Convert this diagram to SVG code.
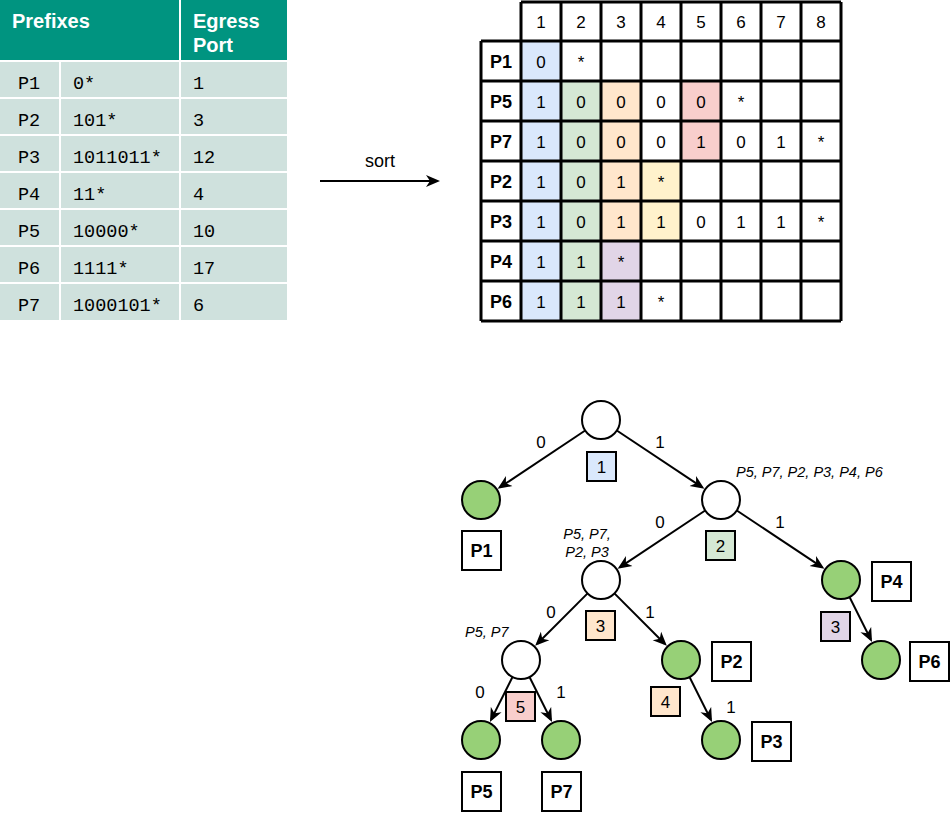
<svg xmlns="http://www.w3.org/2000/svg" width="952" height="813" viewBox="0 0 952 813">
<style>
.hd{font-family:"Liberation Sans",Arial,sans-serif;font-weight:bold;font-size:20px;fill:#fff}
.mono{font-family:"Liberation Mono","DejaVu Sans Mono",monospace;font-size:18.5px;fill:#000}
.row{fill:#cfe1dd}
.m{font-family:"Liberation Sans",Arial,sans-serif;font-size:17px;fill:#000;text-anchor:middle}
.mb{font-family:"Liberation Sans",Arial,sans-serif;font-size:18px;font-weight:bold;fill:#000;text-anchor:middle}
.grid{stroke:#000;stroke-width:3;fill:none}
.node{fill:#fff;stroke:#000;stroke-width:2}
.leaf{fill:#97d077;stroke:#000;stroke-width:2}
.pbox{fill:#fff;stroke:#000;stroke-width:2}
.nbox{stroke:#000;stroke-width:2}
.el{font-family:"Liberation Sans",Arial,sans-serif;font-size:17px;fill:#000;text-anchor:middle}
.it{font-family:"Liberation Sans",Arial,sans-serif;font-size:14.5px;font-style:italic;fill:#000}
.edge{stroke:#000;stroke-width:2;fill:none;marker-end:url(#arr)}
.blue{fill:#dae8fc}.green{fill:#d5e8d4}.orange{fill:#ffe6cc}.purple{fill:#e1d5e7}.yellow{fill:#fff2cc}.red{fill:#f8cecc}
</style>
<defs>
<marker id="arr" markerUnits="userSpaceOnUse" markerWidth="15" markerHeight="13" viewBox="0 0 15 13" refX="11" refY="6.5" orient="auto">
<path d="M0,0.5 L14,6.5 L0,12.5 L4,6.5 z" fill="#000"/>
</marker>
</defs>
<rect width="952" height="813" fill="#fff"/>

<g id="prefix-table">
<rect x="0" y="0" width="179" height="60" fill="#009480"/>
<rect x="181" y="0" width="106" height="60" fill="#009480"/>
<text class="hd" x="12" y="28">Prefixes</text>
<text class="hd" x="193" y="28">Egress</text>
<text class="hd" x="193" y="52">Port</text>
<g>
<rect class="row" x="0" y="62" width="59" height="35"/><rect class="row" x="61" y="62" width="118" height="35"/><rect class="row" x="181" y="62" width="106" height="35"/>
<rect class="row" x="0" y="99" width="59" height="35"/><rect class="row" x="61" y="99" width="118" height="35"/><rect class="row" x="181" y="99" width="106" height="35"/>
<rect class="row" x="0" y="136" width="59" height="35"/><rect class="row" x="61" y="136" width="118" height="35"/><rect class="row" x="181" y="136" width="106" height="35"/>
<rect class="row" x="0" y="173" width="59" height="35"/><rect class="row" x="61" y="173" width="118" height="35"/><rect class="row" x="181" y="173" width="106" height="35"/>
<rect class="row" x="0" y="210" width="59" height="35"/><rect class="row" x="61" y="210" width="118" height="35"/><rect class="row" x="181" y="210" width="106" height="35"/>
<rect class="row" x="0" y="247" width="59" height="35"/><rect class="row" x="61" y="247" width="118" height="35"/><rect class="row" x="181" y="247" width="106" height="35"/>
<rect class="row" x="0" y="284" width="59" height="36"/><rect class="row" x="61" y="284" width="118" height="36"/><rect class="row" x="181" y="284" width="106" height="36"/>
</g>
<text class="mono" x="18" y="89">P1</text><text class="mono" x="73" y="89">0*</text><text class="mono" x="193" y="89">1</text>
<text class="mono" x="18" y="126">P2</text><text class="mono" x="73" y="126">101*</text><text class="mono" x="193" y="126">3</text>
<text class="mono" x="18" y="163">P3</text><text class="mono" x="73" y="163">1011011*</text><text class="mono" x="193" y="163">12</text>
<text class="mono" x="18" y="200">P4</text><text class="mono" x="73" y="200">11*</text><text class="mono" x="193" y="200">4</text>
<text class="mono" x="18" y="237">P5</text><text class="mono" x="73" y="237">10000*</text><text class="mono" x="193" y="237">10</text>
<text class="mono" x="18" y="274">P6</text><text class="mono" x="73" y="274">1111*</text><text class="mono" x="193" y="274">17</text>
<text class="mono" x="18" y="311">P7</text><text class="mono" x="73" y="311">1000101*</text><text class="mono" x="193" y="311">6</text>
</g>

<g id="sort-arrow">
<line class="edge" x1="320" y1="181" x2="437" y2="181"/>
<text x="380" y="167" font-family="Liberation Sans, Arial, sans-serif" font-size="18" text-anchor="middle">sort</text>
</g>

<g id="sorted-matrix">
<rect class="blue" x="521" y="41" width="40" height="280"/>
<rect class="green" x="561" y="81" width="40" height="240"/>
<rect class="orange" x="601" y="81" width="40" height="160"/>
<rect class="purple" x="601" y="241" width="40" height="80"/>
<rect class="yellow" x="641" y="161" width="40" height="80"/>
<rect class="red" x="681" y="81" width="40" height="80"/>
<path class="grid" d="M521,2H841M481,41H841M481,81H841M481,121H841M481,161H841M481,201H841M481,241H841M481,281H841M481,321H841M481,41V321M521,2V321M561,2V321M601,2V321M641,2V321M681,2V321M721,2V321M761,2V321M801,2V321M841,2V321"/>
<text class="m" x="541" y="28">1</text><text class="m" x="581" y="28">2</text><text class="m" x="621" y="28">3</text><text class="m" x="661" y="28">4</text><text class="m" x="701" y="28">5</text><text class="m" x="741" y="28">6</text><text class="m" x="781" y="28">7</text><text class="m" x="821" y="28">8</text>
<text class="mb" x="501" y="67.5">P1</text><text class="mb" x="501" y="107.5">P5</text><text class="mb" x="501" y="147.5">P7</text><text class="mb" x="501" y="187.5">P2</text><text class="mb" x="501" y="227.5">P3</text><text class="mb" x="501" y="267.5">P4</text><text class="mb" x="501" y="307.5">P6</text>
<text class="m" x="541" y="67.5">0</text><text class="m" x="581" y="67.5">*</text>
<text class="m" x="541" y="107.5">1</text><text class="m" x="581" y="107.5">0</text><text class="m" x="621" y="107.5">0</text><text class="m" x="661" y="107.5">0</text><text class="m" x="701" y="107.5">0</text><text class="m" x="741" y="107.5">*</text>
<text class="m" x="541" y="147.5">1</text><text class="m" x="581" y="147.5">0</text><text class="m" x="621" y="147.5">0</text><text class="m" x="661" y="147.5">0</text><text class="m" x="701" y="147.5">1</text><text class="m" x="741" y="147.5">0</text><text class="m" x="781" y="147.5">1</text><text class="m" x="821" y="147.5">*</text>
<text class="m" x="541" y="187.5">1</text><text class="m" x="581" y="187.5">0</text><text class="m" x="621" y="187.5">1</text><text class="m" x="661" y="187.5">*</text>
<text class="m" x="541" y="227.5">1</text><text class="m" x="581" y="227.5">0</text><text class="m" x="621" y="227.5">1</text><text class="m" x="661" y="227.5">1</text><text class="m" x="701" y="227.5">0</text><text class="m" x="741" y="227.5">1</text><text class="m" x="781" y="227.5">1</text><text class="m" x="821" y="227.5">*</text>
<text class="m" x="541" y="267.5">1</text><text class="m" x="581" y="267.5">1</text><text class="m" x="621" y="267.5">*</text>
<text class="m" x="541" y="307.5">1</text><text class="m" x="581" y="307.5">1</text><text class="m" x="621" y="307.5">1</text><text class="m" x="661" y="307.5">*</text>
</g>

<g id="connectors">
<line class="edge" x1="585.2" y1="430.5" x2="500.1" y2="487.2"/>
<line class="edge" x1="616.8" y1="430.5" x2="701.9" y2="487.2"/>
<line class="edge" x1="705.2" y1="510.5" x2="620.1" y2="567.2"/>
<line class="edge" x1="736.8" y1="510.5" x2="821.9" y2="567.2"/>
<line class="edge" x1="587.6" y1="593.4" x2="537.3" y2="643.7"/>
<line class="edge" x1="614.4" y1="593.4" x2="664.7" y2="643.7"/>
<line class="edge" x1="512.5" y1="677" x2="491.3" y2="719.4"/>
<line class="edge" x1="529.5" y1="677" x2="550.7" y2="719.4"/>
<line class="edge" x1="689.5" y1="677" x2="710.7" y2="719.4"/>
<line class="edge" x1="849.5" y1="597" x2="870.7" y2="639.4"/>
<text class="el" x="541" y="448">0</text>
<text class="el" x="660" y="448">1</text>
<text class="el" x="660" y="528">0</text>
<text class="el" x="780" y="528">1</text>
<text class="el" x="551" y="618">0</text>
<text class="el" x="650" y="618">1</text>
<text class="el" x="480" y="698">0</text>
<text class="el" x="561" y="698">1</text>
<text class="el" x="731" y="713">1</text>
</g>

<g id="node-root">
<circle class="node" cx="601" cy="420" r="19"/>
<rect class="nbox" x="587" y="452" width="29" height="29" fill="#dae8fc" stroke="#10253f"/>
<text class="m" x="601.5" y="472.5">1</text>
</g>
<g id="node-P1">
<circle class="leaf" cx="481" cy="500" r="19"/>
<rect class="pbox" x="462" y="531" width="39" height="39"/>
<text class="mb" x="481.5" y="557">P1</text>
</g>
<g id="node-2">
<circle class="node" cx="721" cy="500" r="19"/>
<rect class="nbox green" x="706" y="531" width="29" height="29"/>
<text class="m" x="720.5" y="551.5">2</text>
<text class="it" x="736" y="477">P5, P7, P2, P3, P4, P6</text>
</g>
<g id="node-3">
<circle class="node" cx="601" cy="580" r="19"/>
<rect class="nbox orange" x="586" y="611" width="29" height="29"/>
<text class="m" x="600.5" y="631.5">3</text>
<text class="it" x="587" y="539" text-anchor="middle">P5, P7,</text>
<text class="it" x="587" y="557" text-anchor="middle">P2, P3</text>
</g>
<g id="node-P4">
<circle class="leaf" cx="841" cy="580" r="19"/>
<rect class="pbox" x="872" y="562" width="39" height="39"/>
<text class="mb" x="891.5" y="588">P4</text>
<rect class="nbox purple" x="821" y="612" width="29" height="29"/>
<text class="m" x="835.5" y="632.5">3</text>
</g>
<g id="node-P6">
<circle class="leaf" cx="881" cy="660" r="19"/>
<rect class="pbox" x="910" y="642" width="39" height="39"/>
<text class="mb" x="929.5" y="668">P6</text>
</g>
<g id="node-5">
<circle class="node" cx="521" cy="660" r="19"/>
<rect class="nbox red" x="506" y="692" width="29" height="29"/>
<text class="m" x="520.5" y="712.5">5</text>
<text class="it" x="465" y="637">P5, P7</text>
</g>
<g id="node-P2">
<circle class="leaf" cx="681" cy="660" r="19"/>
<rect class="pbox" x="712" y="642" width="39" height="39"/>
<text class="mb" x="731.5" y="668">P2</text>
<rect class="nbox orange" x="651" y="687" width="29" height="29"/>
<text class="m" x="665.5" y="707.5">4</text>
</g>
<g id="node-P3">
<circle class="leaf" cx="721" cy="740" r="19"/>
<rect class="pbox" x="752" y="722" width="39" height="39"/>
<text class="mb" x="771.5" y="748">P3</text>
</g>
<g id="node-P5">
<circle class="leaf" cx="481" cy="740" r="19"/>
<rect class="pbox" x="462" y="772" width="39" height="39"/>
<text class="mb" x="481.5" y="798">P5</text>
</g>
<g id="node-P7">
<circle class="leaf" cx="561" cy="740" r="19"/>
<rect class="pbox" x="542" y="772" width="39" height="39"/>
<text class="mb" x="561.5" y="798">P7</text>
</g>
</svg>
